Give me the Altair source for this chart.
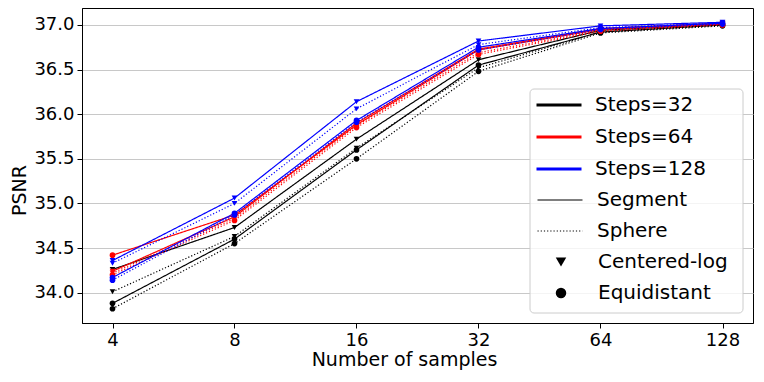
import altair as alt
import pandas as pd

samples = [4, 8, 16, 32, 64, 128]
steps_labels = ["Steps=32", "Steps=64", "Steps=128"]
steps_colors = ["#000000", "#ff0000", "#0000ff"]
methods = ["Segment", "Sphere"]
samplings = ["Centered-log", "Equidistant"]

# Steps=32
s32_segment_centered = [34.26, 34.73, 35.72, 36.61, 36.94, 37.01]
s32_segment_equi = [33.88, 34.60, 35.60, 36.55, 36.92, 37.00]
s32_sphere_centered = [34.01, 34.63, 35.62, 36.52, 36.92, 37.00]
s32_sphere_equi = [33.82, 34.55, 35.50, 36.48, 36.91, 36.99]
# Steps=64
s64_segment_centered = [34.24, 34.85, 35.90, 36.73, 36.96, 37.02]
s64_segment_equi = [34.42, 34.87, 35.88, 36.72, 36.95, 37.01]
s64_sphere_centered = [34.22, 34.83, 35.87, 36.69, 36.94, 37.01]
s64_sphere_equi = [34.20, 34.81, 35.85, 36.67, 36.93, 37.00]
# Steps=128
s128_segment_centered = [34.36, 35.06, 36.14, 36.82, 36.99, 37.03]
s128_segment_equi = [34.17, 34.89, 35.93, 36.75, 36.96, 37.02]
s128_sphere_centered = [34.33, 35.00, 36.06, 36.78, 36.97, 37.02]
s128_sphere_equi = [34.14, 34.87, 35.91, 36.72, 36.95, 37.01]

y_ticks = [34.0, 34.5, 35.0, 35.5, 36.0, 36.5, 37.0]

series = [
    ("Steps=32", "Segment", "Centered-log", s32_segment_centered),
    ("Steps=32", "Segment", "Equidistant", s32_segment_equi),
    ("Steps=32", "Sphere", "Centered-log", s32_sphere_centered),
    ("Steps=32", "Sphere", "Equidistant", s32_sphere_equi),
    ("Steps=64", "Segment", "Centered-log", s64_segment_centered),
    ("Steps=64", "Segment", "Equidistant", s64_segment_equi),
    ("Steps=64", "Sphere", "Centered-log", s64_sphere_centered),
    ("Steps=64", "Sphere", "Equidistant", s64_sphere_equi),
    ("Steps=128", "Segment", "Centered-log", s128_segment_centered),
    ("Steps=128", "Segment", "Equidistant", s128_segment_equi),
    ("Steps=128", "Sphere", "Centered-log", s128_sphere_centered),
    ("Steps=128", "Sphere", "Equidistant", s128_sphere_equi),
]

rows = []
for i, (st, me, sa, vals) in enumerate(series):
    for n, v in zip(samples, vals):
        rows.append({"samples": n, "psnr": v, "steps": st, "method": me,
                     "sampling": sa, "sid": i})
df = pd.DataFrame(rows)

x_enc = alt.X("samples:Q",
              scale=alt.Scale(type="log", base=2, domain=[2 ** 1.75, 2 ** 7.25], nice=False),
              axis=alt.Axis(values=samples, format="d", title="Number of samples",
                            grid=False, titleX=322, titleY=27, titleBaseline="top"))
y_enc = alt.Y("psnr:Q",
              scale=alt.Scale(domain=[33.66, 37.19], nice=False, zero=False),
              axis=alt.Axis(values=y_ticks, format=".1f", title="PSNR", grid=True,
                            titleX=-53, titleY=182))

color_scale = alt.Scale(domain=steps_labels, range=steps_colors)

lines = alt.Chart(df).mark_line(strokeWidth=1.2).encode(
    x=x_enc,
    y=y_enc,
    color=alt.Color("steps:N", scale=color_scale,
                    legend=alt.Legend(title=None, orient="none", legendX=467, legendY=87,
                                      symbolType="M-4.5,0H4.5", symbolSize=100,
                                      symbolStrokeWidth=3.2, labelFontSize=20,
                                      rowPadding=12, labelOffset=26, padding=0)),
    strokeDash=alt.StrokeDash("method:N",
                              scale=alt.Scale(domain=methods, range=[[1, 0], [1.2, 2]]),
                              legend=alt.Legend(title=None, orient="none", legendX=468, legendY=182,
                                                symbolType="M-4.5,0H4.5", symbolSize=100,
                                                symbolStrokeWidth=1.2, symbolStrokeColor="black",
                                                labelFontSize=20, rowPadding=11,
                                                labelOffset=27, padding=0)),
    detail="sid:N",
    order="sid:Q",
)

points = alt.Chart(df).mark_point(filled=True, size=32, opacity=1).encode(
    x=x_enc,
    y=y_enc,
    color=alt.Color("steps:N", scale=color_scale, legend=None),
    shape=alt.Shape("sampling:N",
                    scale=alt.Scale(domain=samplings, range=["triangle-down", "circle"]),
                    legend=alt.Legend(title=None, orient="none", legendX=469, legendY=244,
                                      symbolSize=110, symbolFillColor="black",
                                      symbolStrokeColor="black", symbolStrokeWidth=0,
                                      labelFontSize=20, rowPadding=11,
                                      labelOffset=27, padding=0)),
    order="sid:Q",
)

box = alt.Chart(pd.DataFrame({"a": [0]})).mark_rect(
    fill="white", fillOpacity=0.8, stroke="#cccccc", strokeWidth=1, cornerRadius=4
).encode(x=alt.value(448), x2=alt.value(661), y=alt.value(81), y2=alt.value(305))

chart = alt.layer(lines, points, box).properties(
    width=671, height=315,
    autosize=alt.AutoSizeParams(type="none"),
    padding={"left": 74, "top": 0, "right": 3, "bottom": 50},
).configure(
    font="DejaVu Sans",
).configure_view(
    stroke="black", strokeWidth=1,
).configure_axis(
    domainColor="black", domainWidth=1, tickColor="black", tickSize=5, tickWidth=1,
    labelColor="black", labelFontSize=18, titleFontSize=19, titleColor="black",
    titleFontWeight="normal", labelPadding=3, gridColor="#c8c8c8", gridWidth=1,
).configure_legend(
    labelColor="black", labelFont="DejaVu Sans",
)

chart.save("out.html", embed_options={"renderer": "svg", "actions": False})
